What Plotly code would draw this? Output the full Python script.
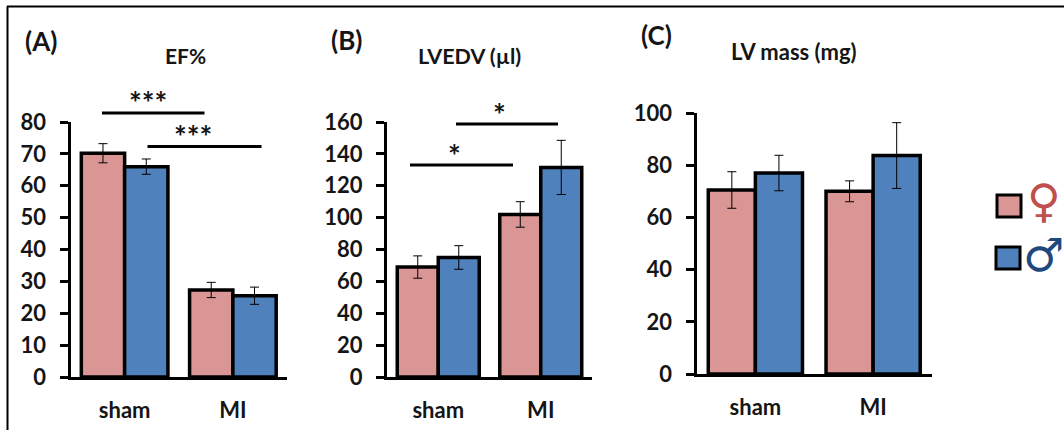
import plotly.graph_objects as go

W, H = 1064, 430
categories = ["sham", "MI"]

ef_female = [70.2, 27.3]
ef_male = [66.0, 25.5]
ef_female_err = [3.0, 2.4]
ef_male_err = [2.4, 2.7]
ef_ticks = [0, 10, 20, 30, 40, 50, 60, 70, 80]

lvedv_female = [69.0, 102.0]
lvedv_male = [75.0, 131.5]
lvedv_female_err = [7.0, 8.0]
lvedv_male_err = [7.4, 17.0]
lvedv_ticks = [0, 20, 40, 60, 80, 100, 120, 140, 160]

mass_female = [70.5, 70.0]
mass_male = [77.0, 83.7]
mass_female_err = [7.0, 4.0]
mass_male_err = [6.8, 12.6]
mass_ticks = [0, 20, 40, 60, 80, 100]

PINK, BLUE = "#D99694", "#4F81BD"
INK = "#151515"
FONT = "Lato"


def px(x):
    return x / W


def py(y):
    return 1 - y / H


panels = [
    dict(name="EF%", f=ef_female, m=ef_male, fe=ef_female_err, me=ef_male_err, ticks=ef_ticks,
         left=70.5, right=287, top=122, bottom=377),
    dict(name="LVEDV (µl)", f=lvedv_female, m=lvedv_male, fe=lvedv_female_err, me=lvedv_male_err, ticks=lvedv_ticks,
         left=387, right=592, top=122, bottom=377),
    dict(name="LV mass (mg)", f=mass_female, m=mass_male, fe=mass_female_err, me=mass_male_err, ticks=mass_ticks,
         left=696.5, right=932, top=113, bottom=374),
]

fig = go.Figure()
layout = {}
for i, p in enumerate(panels):
    s = "" if i == 0 else str(i + 1)
    for name, vals, errs, col in (("♀", p["f"], p["fe"], PINK), ("♂", p["m"], p["me"], BLUE)):
        fig.add_trace(go.Bar(
            x=categories, y=vals, name=name, xaxis="x" + s, yaxis="y" + s, offsetgroup=name,
            marker=dict(color=col, line=dict(color="#000000", width=3.5)),
            error_y=dict(type="data", array=errs, visible=True, color="#000000", thickness=1, width=4.5),
            showlegend=False,
        ))
    layout["xaxis" + s] = dict(
        domain=[px(p["left"]), px(p["right"])], anchor="y" + s, type="category", range=[-0.5, 1.5],
        showline=True, linecolor="#000000", linewidth=3, ticks="", showgrid=False, zeroline=False,
        automargin=False,
        ticklabelstandoff=12, tickfont=dict(family=FONT, size=22, color=INK, weight=700),
    )
    layout["yaxis" + s] = dict(
        domain=[py(p["bottom"]), py(p["top"])], anchor="x" + s, range=[0, p["ticks"][-1]],
        tickvals=p["ticks"], showline=True, linecolor="#000000", linewidth=3,
        ticks="outside", ticklen=8, tickwidth=3, tickcolor="#000000", showgrid=False, zeroline=False,
        automargin=False,
        ticklabelstandoff=9, tickfont=dict(family=FONT, size=22, color=INK, weight=700),
    )


def label(text, x, y, size=20):
    return dict(text=text, x=px(x), y=py(y), xref="paper", yref="paper", showarrow=False,
                xanchor="center", yanchor="middle",
                font=dict(family=FONT, size=size, color=INK, weight=700))


annotations = [
    label("(A)", 41, 41, 26), label("(B)", 346, 40, 26), label("(C)", 656, 35, 26),
    label("EF%", 185, 55, 21), label("LVEDV (µl)", 469, 56, 21.5), label("LV mass (mg)", 794, 51, 22),
    label("***", 148, 102, 30), label("***", 193, 136, 30),
    label("*", 454, 155, 30), label("*", 499, 114, 30),
]


def line(x0, y0, x1, y1, width):
    return dict(type="line", xref="paper", yref="paper", x0=px(x0), y0=py(y0), x1=px(x1), y1=py(y1),
                line=dict(color="#000000", width=width))


shapes = [
    line(7.5, 6.5, 7.5, 430, 2), line(7, 6.5, 1064, 6.5, 2),
    line(102, 113, 204.5, 113, 3), line(147.5, 146.5, 261.5, 146.5, 3),
    line(410, 165, 513, 165, 3), line(456, 124, 558, 124, 3),
]
for x0, y0, x1, y1, col in ((997, 195, 1021, 217, PINK), (996, 247, 1020, 269, BLUE)):
    shapes.append(dict(type="rect", xref="paper", yref="paper", x0=px(x0), y0=py(y0), x1=px(x1), y1=py(y1),
                       fillcolor=col, line=dict(color="#000000", width=3)))

for text, x, y, col in (("♀", 1044, 201, "#C0504D"), ("♂", 1043, 255, "#1F497D")):
    annotations.append(dict(text=text, x=px(x), y=py(y), xref="paper", yref="paper", showarrow=False,
                            xanchor="center", yanchor="middle",
                            font=dict(family="DejaVu Sans", size=46, color=col)))

fig.update_layout(
    width=W, height=H, margin=dict(l=0, r=0, t=0, b=0), paper_bgcolor="white", plot_bgcolor="white",
    barmode="group", bargap=0.2, bargroupgap=0, showlegend=False,
    annotations=annotations, shapes=shapes, **layout,
)
fig.write_html("out.html", config=dict(displayModeBar=False), post_script="document.body.style.margin='0';")
